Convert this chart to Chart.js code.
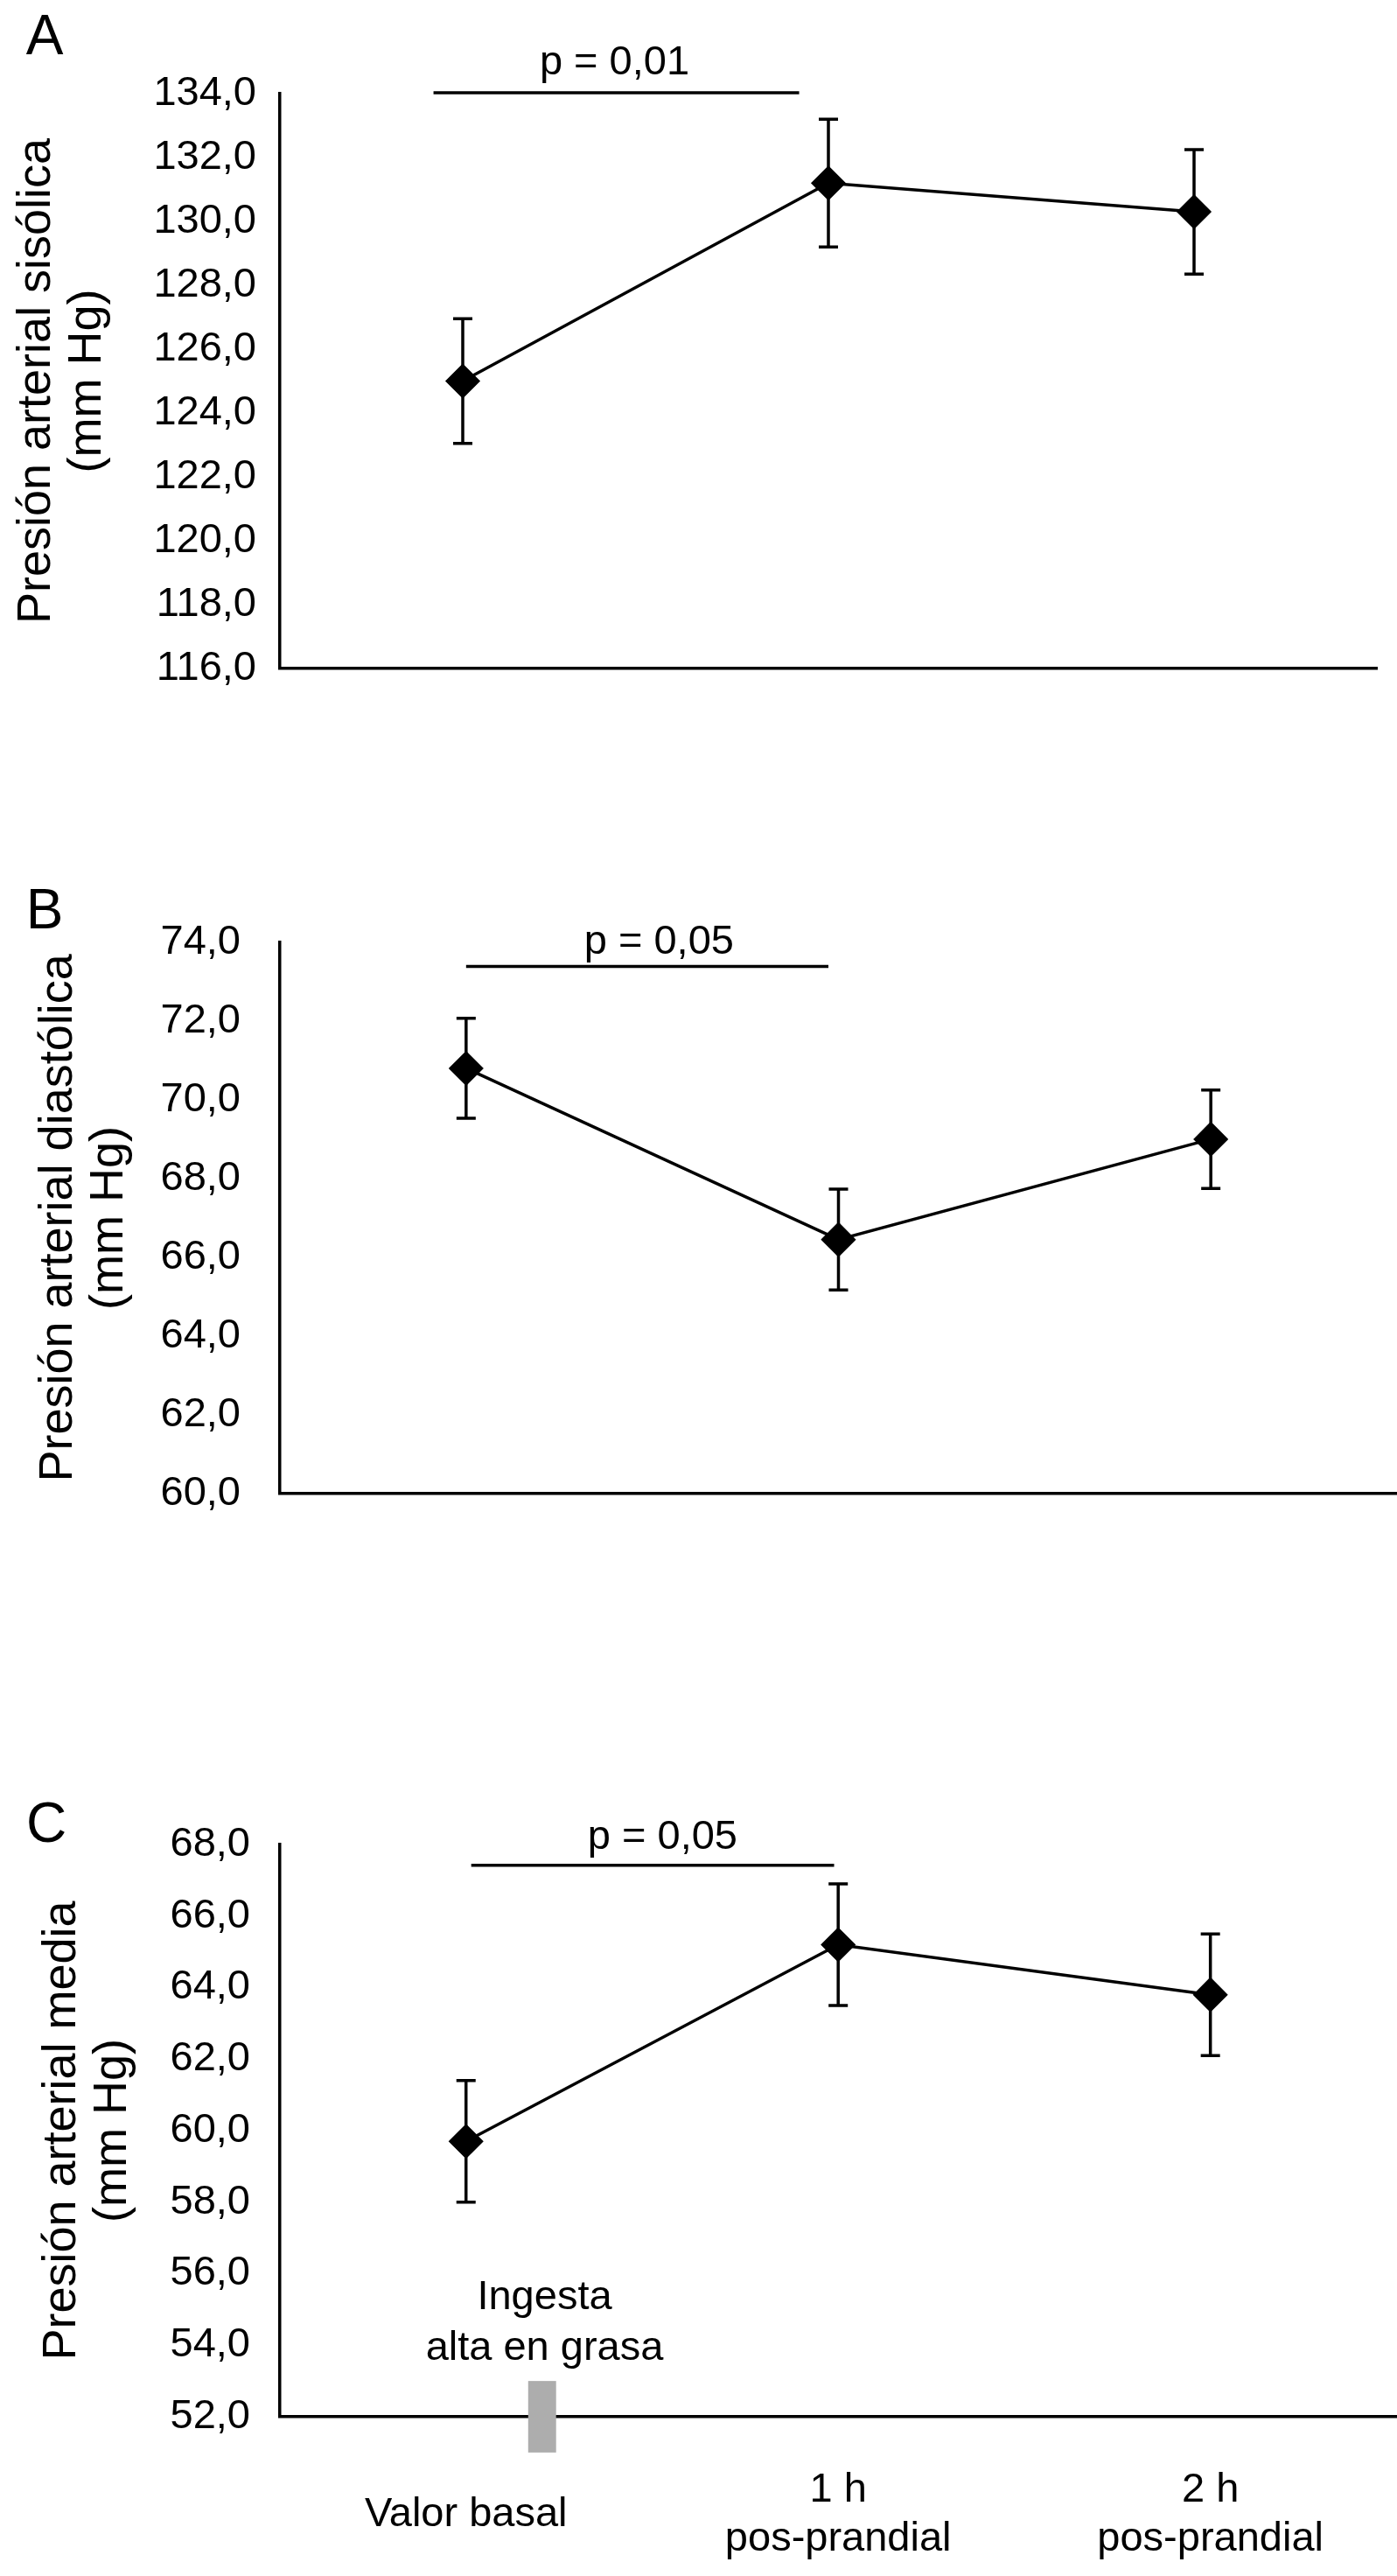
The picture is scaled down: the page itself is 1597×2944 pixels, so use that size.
<!DOCTYPE html>
<html><head><meta charset="utf-8">
<script src="https://cdn.jsdelivr.net/npm/chart.js@4.4.1/dist/chart.umd.min.js"></script>
<style>
html,body{margin:0;padding:0;background:#fff;}
#wrap{position:relative;width:1597px;height:2944px;background:#fff;overflow:hidden;}
canvas{position:absolute;left:0;}
</style></head><body>
<div id="wrap">
<canvas id="cA" width="1597" height="830" style="top:0px"></canvas>
<canvas id="cB" width="1597" height="830" style="top:950px"></canvas>
<canvas id="cC" width="1597" height="944" style="top:2000px"></canvas>
</div>
<script>
// ---- data ----
const categories = ['Valor basal', ['1 h', 'pos-prandial'], ['2 h', 'pos-prandial']];

const sistolica = [125.0, 131.2, 130.3];
const sistolicaErr = [1.95, 2.0, 1.95];
const sistolicaTicks = [116, 118, 120, 122, 124, 126, 128, 130, 132, 134];
const sistolicaTickLabels = ['116,0', '118,0', '120,0', '122,0', '124,0', '126,0', '128,0', '130,0', '132,0', '134,0'];

const diastolica = [70.8, 66.45, 69.0];
const diastolicaErr = [1.27, 1.28, 1.25];
const diastolicaTicks = [60, 62, 64, 66, 68, 70, 72, 74];
const diastolicaTickLabels = ['60,0', '62,0', '64,0', '66,0', '68,0', '70,0', '72,0', '74,0'];

const media = [59.7, 65.2, 63.8];
const mediaErr = [1.7, 1.7, 1.7];
const mediaTicks = [52, 54, 56, 58, 60, 62, 64, 66, 68];
const mediaTickLabels = ['52,0', '54,0', '56,0', '58,0', '60,0', '62,0', '64,0', '66,0', '68,0'];

const titleA = ['Presión arterial sisólica', '(mm Hg)'];
const titleB = ['Presión arterial diastólica', '(mm Hg)'];
const titleC = ['Presión arterial media', '(mm Hg)'];

// significance bars: [start category index, end category index, y value]
const sigA = [-0.08, 0.92, 134.03];
const sigB = [0.0, 0.973, 73.39];
const sigC = [0.014, 0.989, 67.42];
const sigTextA = 'p = 0,01';
const sigTextB = 'p = 0,05';
const sigTextC = 'p = 0,05';

// meal marker (panel C): [x index start, x index end, y from, y to]
const mealBar = [0.167, 0.242, 51.0, 53.0];
const mealText = ['Ingesta', 'alta en grasa'];

const FONT = "'Liberation Sans', Arial, Helvetica, sans-serif";

function panelPlugin(spec) {
  return {
    id: 'panel' + spec.letter,
    beforeDatasetsDraw(chart) {
      const ctx = chart.ctx, x = chart.scales.x, y = chart.scales.y;
      ctx.save();
      ctx.strokeStyle = '#000';
      ctx.lineWidth = 3.5;
      spec.values.forEach((v, i) => {
        const px = x.getPixelForValue(i);
        const t = y.getPixelForValue(v + spec.errors[i]);
        const b = y.getPixelForValue(v - spec.errors[i]);
        ctx.beginPath();
        ctx.moveTo(px, t); ctx.lineTo(px, b);
        ctx.moveTo(px - 11, t); ctx.lineTo(px + 11, t);
        ctx.moveTo(px - 11, b); ctx.lineTo(px + 11, b);
        ctx.stroke();
      });
      ctx.restore();
    },
    afterDraw(chart) {
      const ctx = chart.ctx, x = chart.scales.x, y = chart.scales.y;
      ctx.save();
      ctx.strokeStyle = '#000';
      ctx.lineWidth = 3.5;
      const sy = y.getPixelForValue(spec.sig[2]);
      ctx.beginPath();
      ctx.moveTo(x.getPixelForValue(spec.sig[0]), sy);
      ctx.lineTo(x.getPixelForValue(spec.sig[1]), sy);
      ctx.stroke();
      ctx.fillStyle = '#000';
      ctx.font = '47px ' + FONT;
      ctx.textAlign = 'center';
      ctx.textBaseline = 'middle';
      ctx.fillText(spec.sigText, x.getPixelForValue(spec.sigTextX), y.getPixelForValue(spec.sigTextY));
      ctx.font = '64px ' + FONT;
      ctx.fillText(spec.letter, spec.letterPos[0], spec.letterPos[1]);
      if (spec.meal) {
        const x0 = x.getPixelForValue(mealBar[0]), x1 = x.getPixelForValue(mealBar[1]);
        const y0 = y.getPixelForValue(mealBar[3]), y1 = y.getPixelForValue(mealBar[2]);
        ctx.fillStyle = '#adadad';
        ctx.fillRect(x0, y0, x1 - x0, y1 - y0);
        ctx.fillStyle = '#000';
        ctx.font = '47px ' + FONT;
        ctx.fillText(mealText[0], x.getPixelForValue(0.211), y.getPixelForValue(55.33));
        ctx.fillText(mealText[1], x.getPixelForValue(0.211), y.getPixelForValue(53.9));
      }
      ctx.restore();
    }
  };
}

function makeChart(id, spec) {
  return new Chart(document.getElementById(id), {
    type: 'line',
    data: {
      labels: categories,
      datasets: [{
        data: spec.values,
        borderColor: '#000',
        borderWidth: 3.5,
        backgroundColor: '#000',
        pointStyle: 'rectRot',
        pointRadius: 19,
        pointBorderWidth: 1.5,
        pointBorderColor: '#000',
        pointBackgroundColor: '#000',
        tension: 0,
        fill: false,
        clip: false
      }]
    },
    options: {
      responsive: false,
      devicePixelRatio: 1,
      animation: false,
      events: [],
      layout: { padding: spec.padding, autoPadding: false },
      plugins: { legend: { display: false }, tooltip: { enabled: false }, title: { display: false } },
      scales: {
        x: {
          type: 'category',
          offset: true,
          grid: { display: false, drawTicks: false },
          border: { display: true, color: '#000', width: 3.5 },
          ticks: {
            display: spec.showX,
            color: '#000',
            font: { family: FONT, size: 47, lineHeight: 1.2 },
            padding: 84,
            maxRotation: 0, minRotation: 0,
            autoSkip: false,
            crossAlign: 'center'
          },
          afterFit: s => { s.height = spec.xHeight; }
        },
        y: {
          min: spec.ticks[0],
          max: spec.ticks[spec.ticks.length - 1],
          grid: { display: false, drawTicks: false },
          border: { display: true, color: '#000', width: 3.5 },
          ticks: {
            stepSize: 2,
            autoSkip: false,
            color: '#000',
            padding: spec.tickPad,
            font: { family: FONT, size: 47 },
            callback: v => spec.tickLabels[spec.ticks.indexOf(v)]
          },
          title: {
            display: true,
            text: spec.title,
            color: '#000',
            font: { family: FONT, size: 54, lineHeight: 58 / 54 },
            padding: { top: spec.titlePad, bottom: 0 }
          },
          afterFit: s => { s.width = 320; }
        }
      }
    },
    plugins: [panelPlugin(spec)]
  });
}

makeChart('cA', {
  letter: 'A', letterPos: [51, 44],
  values: sistolica, errors: sistolicaErr,
  ticks: sistolicaTicks, tickLabels: sistolicaTickLabels, tickPad: 27,
  title: titleA, titlePad: 13,
  sig: sigA, sigText: sigTextA, sigTextX: 0.415, sigTextY: 134.95,
  padding: { top: 107, bottom: 66, left: 0, right: 23 },
  showX: false, xHeight: 0, meal: false
});
makeChart('cB', {
  letter: 'B', letterPos: [51, 93],
  values: diastolica, errors: diastolicaErr,
  ticks: diastolicaTicks, tickLabels: diastolicaTickLabels, tickPad: 45,
  title: titleB, titlePad: 38,
  sig: sigB, sigText: sigTextB, sigTextX: 0.518, sigTextY: 74.0,
  padding: { top: 127, bottom: 44, left: 0, right: 0 },
  showX: false, xHeight: 0, meal: false
});
makeChart('cC', {
  letter: 'C', letterPos: [53, 87],
  values: media, errors: mediaErr,
  ticks: mediaTicks, tickLabels: mediaTickLabels, tickPad: 34,
  title: titleC, titlePad: 42,
  sig: sigC, sigText: sigTextC, sigTextX: 0.528, sigTextY: 68.2,
  padding: { top: 108, bottom: 0, left: 0, right: 0 },
  showX: true, xHeight: 182, meal: true
});
</script>
</body></html>
